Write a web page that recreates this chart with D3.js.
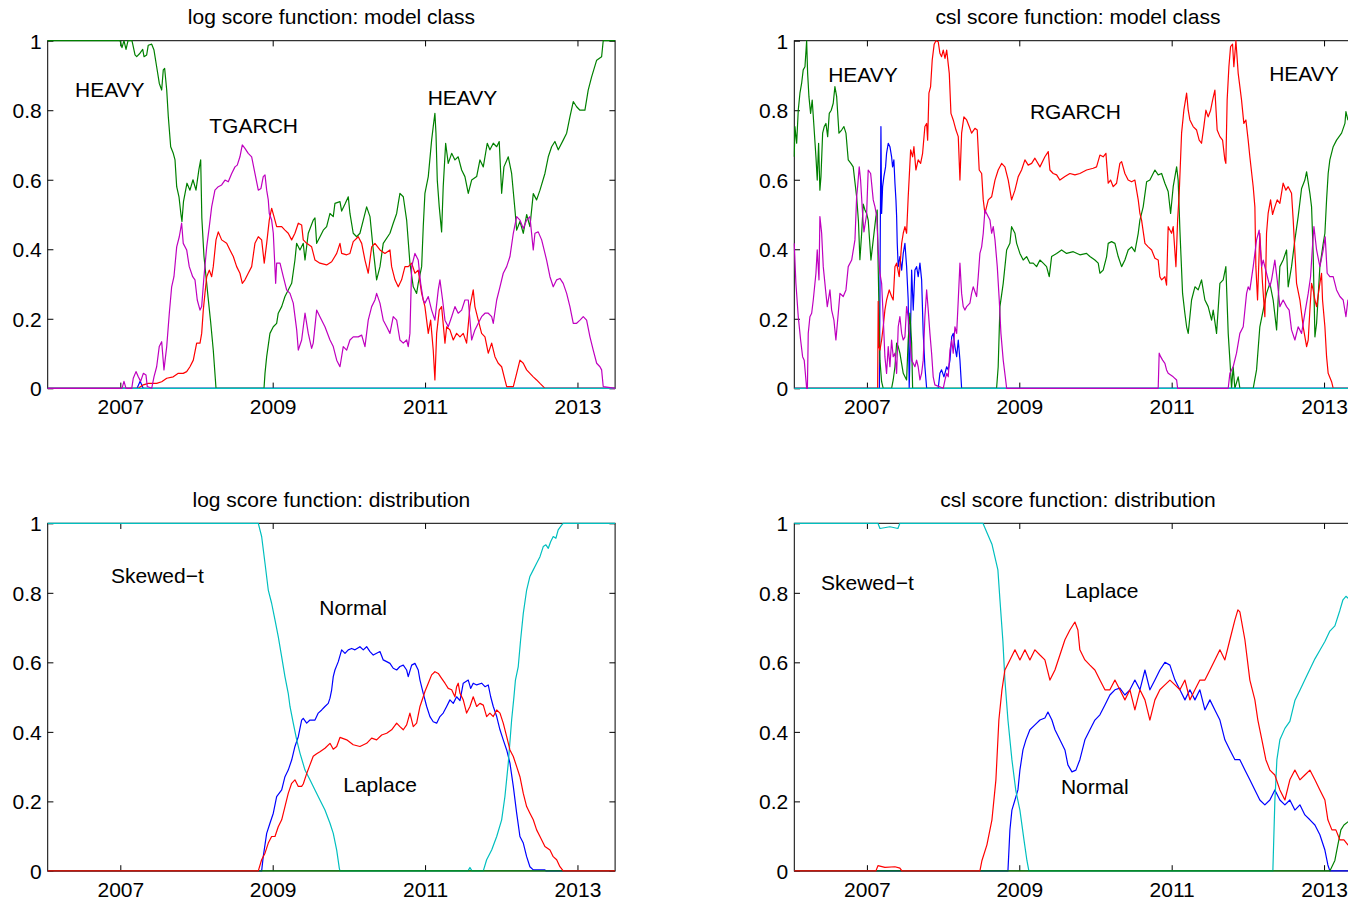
<!DOCTYPE html>
<html>
<head>
<meta charset="utf-8">
<script src="https://cdn.jsdelivr.net/npm/d3@7"></script>
<style>
html,body{margin:0;padding:0;background:#fff;overflow:hidden;}
svg{display:block;}
</style>
</head>
<body>
<div id="chart"></div>
<script>
// ---------------- data ----------------
const yearTicks = [2007, 2009, 2011, 2013];
const probTicks = [0, 0.2, 0.4, 0.6, 0.8, 1];
const yearDomain = [2006.047, 2013.494];

const titles = [
  "log score function: model class",
  "csl score function: model class",
  "log score function: distribution",
  "csl score function: distribution"
];

// ---- panel 1: log score, model class ----
const logClassHeavy = [[2006.047,1],[2006.996,1],[2007.022,0.98],[2007.048,1],[2007.075,0.975],[2007.101,1],[2007.153,1],[2007.170,0.983],[2007.193,0.959],[2007.215,0.954],[2007.258,0.964],[2007.294,0.975],[2007.311,0.954],[2007.346,0.959],[2007.367,0.987],[2007.412,0.99],[2007.442,0.973],[2007.477,0.925],[2007.512,0.877],[2007.543,0.858],[2007.564,0.916],[2007.582,0.92],[2007.609,0.858],[2007.630,0.781],[2007.661,0.695],[2007.695,0.676],[2007.718,0.657],[2007.740,0.58],[2007.770,0.551],[2007.796,0.50],[2007.809,0.48],[2007.829,0.537],[2007.849,0.56],[2007.875,0.59],[2007.914,0.57],[2007.954,0.6],[2007.993,0.57],[2008.032,0.63],[2008.055,0.657],[2008.070,0.49],[2008.098,0.38],[2008.155,0.255],[2008.186,0.19],[2008.220,0.11],[2008.256,0],[2008.886,0],[2008.899,0.043],[2008.921,0.091],[2008.964,0.158],[2009.008,0.177],[2009.052,0.187],[2009.073,0.216],[2009.118,0.235],[2009.161,0.264],[2009.204,0.283],[2009.249,0.302],[2009.292,0.369],[2009.314,0.417],[2009.358,0.398],[2009.401,0.417],[2009.424,0.369],[2009.467,0.446],[2009.533,0.484],[2009.555,0.49],[2009.577,0.417],[2009.621,0.436],[2009.664,0.455],[2009.708,0.465],[2009.752,0.503],[2009.795,0.494],[2009.817,0.532],[2009.883,0.537],[2009.905,0.51],[2009.949,0.53],[2009.992,0.551],[2010.014,0.503],[2010.057,0.446],[2010.102,0.436],[2010.145,0.446],[2010.189,0.484],[2010.233,0.522],[2010.277,0.494],[2010.320,0.398],[2010.364,0.312],[2010.408,0.35],[2010.451,0.417],[2010.539,0.446],[2010.582,0.475],[2010.627,0.503],[2010.648,0.532],[2010.670,0.561],[2010.714,0.551],[2010.758,0.484],[2010.801,0.36],[2010.845,0.292],[2010.889,0.273],[2010.910,0.302],[2010.955,0.35],[2010.976,0.465],[2010.998,0.561],[2011.042,0.609],[2011.086,0.714],[2011.107,0.753],[2011.129,0.791],[2011.143,0.734],[2011.160,0.599],[2011.186,0.522],[2011.217,0.45],[2011.238,0.58],[2011.270,0.705],[2011.304,0.647],[2011.349,0.676],[2011.392,0.657],[2011.435,0.666],[2011.480,0.628],[2011.523,0.609],[2011.567,0.561],[2011.611,0.599],[2011.677,0.609],[2011.720,0.657],[2011.764,0.637],[2011.816,0.705],[2011.851,0.686],[2011.895,0.705],[2011.940,0.695],[2011.973,0.71],[2012.005,0.561],[2012.035,0.637],[2012.092,0.666],[2012.136,0.618],[2012.180,0.513],[2012.202,0.455],[2012.245,0.48],[2012.289,0.446],[2012.333,0.50],[2012.376,0.465],[2012.420,0.56],[2012.464,0.542],[2012.508,0.57],[2012.573,0.618],[2012.617,0.666],[2012.661,0.695],[2012.704,0.71],[2012.748,0.686],[2012.813,0.714],[2012.858,0.734],[2012.901,0.781],[2012.945,0.825],[2012.989,0.81],[2013.033,0.8],[2013.098,0.8],[2013.141,0.858],[2013.186,0.896],[2013.252,0.944],[2013.317,0.954],[2013.338,1],[2013.494,1]];

const logClassTgarch = [[2006.047,0],[2007.022,0],[2007.048,0.02],[2007.075,0],[2007.150,0],[2007.170,0.029],[2007.206,0.048],[2007.236,0.033],[2007.267,0.02],[2007.302,0.043],[2007.337,0.038],[2007.354,0.005],[2007.412,0],[2007.442,0.033],[2007.477,0.062],[2007.511,0.12],[2007.543,0.134],[2007.573,0.053],[2007.609,0.12],[2007.643,0.216],[2007.674,0.292],[2007.704,0.321],[2007.740,0.407],[2007.774,0.436],[2007.805,0.475],[2007.826,0.417],[2007.871,0.398],[2007.905,0.35],[2007.950,0.321],[2007.980,0.312],[2008.010,0.254],[2008.046,0.225],[2008.068,0.235],[2008.098,0.321],[2008.134,0.407],[2008.168,0.465],[2008.199,0.522],[2008.242,0.57],[2008.286,0.58],[2008.330,0.585],[2008.374,0.599],[2008.417,0.594],[2008.462,0.618],[2008.505,0.637],[2008.535,0.642],[2008.570,0.666],[2008.601,0.70],[2008.636,0.69],[2008.679,0.676],[2008.724,0.666],[2008.767,0.618],[2008.811,0.57],[2008.846,0.575],[2008.876,0.609],[2008.899,0.614],[2008.921,0.57],[2008.942,0.542],[2008.955,0.503],[2008.986,0.484],[2009.008,0.446],[2009.039,0.302],[2009.052,0.36],[2009.096,0.36],[2009.139,0.321],[2009.183,0.283],[2009.227,0.273],[2009.270,0.245],[2009.315,0.168],[2009.336,0.11],[2009.380,0.139],[2009.424,0.216],[2009.467,0.158],[2009.511,0.115],[2009.532,0.13],[2009.577,0.225],[2009.620,0.206],[2009.686,0.177],[2009.752,0.139],[2009.795,0.12],[2009.840,0.081],[2009.883,0.062],[2009.926,0.12],[2009.971,0.11],[2010.014,0.139],[2010.057,0.148],[2010.123,0.148],[2010.168,0.153],[2010.211,0.12],[2010.254,0.196],[2010.299,0.235],[2010.342,0.254],[2010.364,0.273],[2010.408,0.245],[2010.451,0.196],[2010.496,0.177],[2010.539,0.158],[2010.582,0.206],[2010.627,0.196],[2010.670,0.139],[2010.714,0.13],[2010.758,0.139],[2010.779,0.12],[2010.801,0.158],[2010.824,0.35],[2010.867,0.388],[2010.910,0.369],[2010.942,0.302],[2010.976,0.254],[2010.998,0.245],[2011.042,0.264],[2011.086,0.225],[2011.129,0.196],[2011.173,0.283],[2011.195,0.312],[2011.230,0.254],[2011.261,0.196],[2011.304,0.177],[2011.349,0.206],[2011.392,0.235],[2011.435,0.216],[2011.480,0.225],[2011.523,0.254],[2011.567,0.254],[2011.611,0.139],[2011.654,0.168],[2011.698,0.187],[2011.742,0.206],[2011.786,0.216],[2011.829,0.216],[2011.874,0.206],[2011.895,0.187],[2011.940,0.254],[2011.983,0.292],[2012.026,0.331],[2012.071,0.35],[2012.114,0.379],[2012.158,0.446],[2012.202,0.494],[2012.245,0.484],[2012.289,0.46],[2012.333,0.484],[2012.376,0.494],[2012.420,0.398],[2012.442,0.446],[2012.485,0.45],[2012.530,0.427],[2012.595,0.369],[2012.639,0.321],[2012.682,0.292],[2012.727,0.312],[2012.770,0.316],[2012.813,0.302],[2012.858,0.273],[2012.901,0.235],[2012.945,0.187],[2012.989,0.187],[2013.033,0.196],[2013.076,0.206],[2013.120,0.196],[2013.164,0.148],[2013.207,0.11],[2013.252,0.072],[2013.295,0.062],[2013.317,0.053],[2013.338,0.005],[2013.494,0]];

const logClassRed = [[2006.047,0],[2007.236,0],[2007.302,0.01],[2007.367,0.014],[2007.477,0.014],[2007.543,0.019],[2007.609,0.029],[2007.695,0.033],[2007.761,0.043],[2007.826,0.043],[2007.871,0.048],[2007.914,0.062],[2007.958,0.081],[2008.002,0.13],[2008.046,0.13],[2008.068,0.158],[2008.089,0.225],[2008.111,0.273],[2008.134,0.321],[2008.168,0.34],[2008.199,0.321],[2008.220,0.35],[2008.256,0.427],[2008.286,0.45],[2008.330,0.427],[2008.396,0.417],[2008.439,0.398],[2008.483,0.379],[2008.527,0.35],[2008.570,0.331],[2008.601,0.302],[2008.636,0.312],[2008.679,0.331],[2008.724,0.35],[2008.767,0.417],[2008.811,0.436],[2008.855,0.427],[2008.889,0.36],[2008.921,0.417],[2008.955,0.484],[2008.986,0.518],[2009.017,0.494],[2009.052,0.465],[2009.118,0.465],[2009.161,0.455],[2009.204,0.446],[2009.249,0.427],[2009.292,0.446],[2009.336,0.475],[2009.380,0.47],[2009.401,0.427],[2009.446,0.417],[2009.511,0.407],[2009.555,0.369],[2009.620,0.36],[2009.708,0.355],[2009.774,0.364],[2009.840,0.388],[2009.883,0.417],[2009.905,0.388],[2009.971,0.384],[2010.014,0.388],[2010.057,0.422],[2010.123,0.436],[2010.168,0.417],[2010.211,0.369],[2010.254,0.331],[2010.299,0.407],[2010.342,0.417],[2010.408,0.398],[2010.473,0.388],[2010.539,0.398],[2010.561,0.35],[2010.605,0.312],[2010.648,0.292],[2010.692,0.312],[2010.736,0.35],[2010.779,0.35],[2010.824,0.36],[2010.867,0.331],[2010.910,0.34],[2010.955,0.273],[2010.998,0.235],[2011.042,0.158],[2011.073,0.196],[2011.107,0.11],[2011.129,0.024],[2011.152,0.158],[2011.186,0.225],[2011.217,0.235],[2011.261,0.13],[2011.283,0.177],[2011.326,0.168],[2011.370,0.139],[2011.414,0.158],[2011.458,0.148],[2011.501,0.158],[2011.545,0.13],[2011.589,0.235],[2011.632,0.283],[2011.654,0.235],[2011.698,0.196],[2011.742,0.158],[2011.786,0.148],[2011.829,0.101],[2011.874,0.13],[2011.917,0.091],[2011.960,0.072],[2012.005,0.062],[2012.048,0.024],[2012.071,0.005],[2012.158,0.005],[2012.202,0.043],[2012.245,0.081],[2012.289,0.072],[2012.333,0.053],[2012.376,0.043],[2012.420,0.033],[2012.464,0.024],[2012.508,0.014],[2012.551,0.005],[2012.573,0],[2013.494,0]];

const logClassBlue = [[2006.047,0],[2007.22,0],[2007.26,0.02],[2007.30,0],[2013.494,0]];
const logClassCyan = [[2006.047,0],[2013.494,0]];

// ---- panel 2: csl score, model class ----
const cslClassHeavy = [[2006.046,0.666],[2006.055,0.753],[2006.078,0.705],[2006.099,0.80],[2006.121,0.849],[2006.143,0.877],[2006.164,0.916],[2006.187,0.925],[2006.209,1.0],[2006.222,0.906],[2006.239,0.839],[2006.261,0.791],[2006.282,0.829],[2006.305,0.753],[2006.331,0.666],[2006.348,0.599],[2006.366,0.705],[2006.383,0.57],[2006.397,0.609],[2006.419,0.734],[2006.440,0.753],[2006.462,0.762],[2006.485,0.724],[2006.506,0.791],[2006.532,0.80],[2006.558,0.82],[2006.580,0.868],[2006.603,0.839],[2006.633,0.734],[2006.668,0.743],[2006.698,0.753],[2006.725,0.734],[2006.755,0.657],[2006.790,0.647],[2006.820,0.637],[2006.865,0.551],[2006.889,0.48],[2006.908,0.37],[2006.931,0.446],[2006.952,0.53],[2006.974,0.513],[2006.996,0.503],[2007.017,0.484],[2007.053,0.369],[2007.083,0.427],[2007.118,0.494],[2007.135,0.513],[2007.148,0.35],[2007.171,0.081],[2007.193,0.019],[2007.214,0],[2007.324,0],[2007.345,0.024],[2007.368,0.062],[2007.390,0.13],[2007.411,0.12],[2007.433,0.101],[2007.477,0.043],[2007.521,0.024],[2007.542,0.139],[2007.564,0.216],[2007.587,0.13],[2007.600,0],[2008.702,0],[2008.723,0.062],[2008.746,0.235],[2008.789,0.302],[2008.834,0.398],[2008.877,0.417],[2008.899,0.465],[2008.943,0.446],[2008.965,0.417],[2009.008,0.388],[2009.051,0.369],[2009.096,0.379],[2009.139,0.36],[2009.183,0.36],[2009.227,0.35],[2009.271,0.369],[2009.314,0.36],[2009.358,0.35],[2009.393,0.321],[2009.424,0.379],[2009.490,0.388],[2009.555,0.398],[2009.621,0.388],[2009.708,0.393],[2009.795,0.384],[2009.883,0.388],[2009.927,0.379],[2009.992,0.369],[2010.036,0.36],[2010.058,0.331],[2010.101,0.34],[2010.146,0.379],[2010.167,0.417],[2010.211,0.422],[2010.255,0.417],[2010.298,0.379],[2010.343,0.35],[2010.386,0.369],[2010.429,0.398],[2010.474,0.407],[2010.517,0.393],[2010.561,0.446],[2010.583,0.484],[2010.626,0.522],[2010.671,0.594],[2010.714,0.599],[2010.780,0.628],[2010.823,0.614],[2010.868,0.618],[2010.911,0.59],[2010.954,0.566],[2010.986,0.503],[2011.020,0.58],[2011.065,0.637],[2011.085,0.599],[2011.108,0.455],[2011.143,0.273],[2011.173,0.216],[2011.196,0.177],[2011.217,0.158],[2011.261,0.254],[2011.305,0.292],[2011.348,0.283],[2011.392,0.312],[2011.436,0.254],[2011.479,0.235],[2011.524,0.196],[2011.545,0.225],[2011.589,0.158],[2011.633,0.302],[2011.676,0.312],[2011.711,0.35],[2011.742,0.158],[2011.764,0.081],[2011.786,0],[2011.807,0.062],[2011.829,0],[2011.873,0.033],[2011.895,0],[2012.070,0],[2012.114,0.053],[2012.157,0.177],[2012.201,0.225],[2012.245,0.273],[2012.289,0.302],[2012.332,0.254],[2012.377,0.168],[2012.420,0.35],[2012.463,0.369],[2012.508,0.398],[2012.529,0.292],[2012.573,0.35],[2012.617,0.427],[2012.660,0.494],[2012.705,0.575],[2012.748,0.599],[2012.771,0.623],[2012.814,0.561],[2012.836,0.522],[2012.857,0.388],[2012.880,0.148],[2012.902,0.187],[2012.945,0.35],[2012.989,0.417],[2013.011,0.446],[2013.033,0.542],[2013.054,0.618],[2013.076,0.657],[2013.120,0.695],[2013.164,0.714],[2013.230,0.734],[2013.274,0.762],[2013.287,0.796],[2013.313,0.772],[2013.392,0.78],[2013.494,0.79]];

const cslClassRgarch = [[2006.046,0],[2007.141,0],[2007.148,0.25],[2007.157,0.12],[2007.171,0.11],[2007.193,0.139],[2007.214,0.177],[2007.236,0.225],[2007.258,0.254],[2007.293,0.283],[2007.324,0.264],[2007.345,0.254],[2007.368,0.35],[2007.390,0.36],[2007.424,0.321],[2007.456,0.417],[2007.477,0.446],[2007.499,0.465],[2007.521,0.446],[2007.542,0.551],[2007.574,0.686],[2007.600,0.666],[2007.617,0.695],[2007.643,0.628],[2007.673,0.657],[2007.705,0.647],[2007.731,0.676],[2007.761,0.753],[2007.784,0.762],[2007.797,0.714],[2007.814,0.849],[2007.836,0.868],[2007.857,0.944],[2007.883,0.99],[2007.906,1.0],[2007.936,0.997],[2007.958,0.964],[2007.980,0.954],[2008.002,0.973],[2008.025,0.949],[2008.047,0.973],[2008.081,0.906],[2008.103,0.791],[2008.133,0.772],[2008.169,0.743],[2008.199,0.724],[2008.221,0.599],[2008.243,0.734],[2008.273,0.781],[2008.309,0.772],[2008.343,0.753],[2008.374,0.734],[2008.418,0.748],[2008.448,0.743],[2008.474,0.628],[2008.506,0.618],[2008.527,0.542],[2008.549,0.503],[2008.593,0.542],[2008.637,0.551],[2008.681,0.599],[2008.723,0.628],[2008.768,0.647],[2008.811,0.637],[2008.855,0.599],[2008.899,0.542],[2008.943,0.57],[2008.986,0.609],[2009.030,0.628],[2009.074,0.657],[2009.117,0.642],[2009.162,0.647],[2009.205,0.662],[2009.271,0.637],[2009.336,0.666],[2009.380,0.681],[2009.402,0.628],[2009.445,0.618],[2009.490,0.614],[2009.533,0.599],[2009.599,0.609],[2009.664,0.618],[2009.730,0.614],[2009.795,0.618],[2009.883,0.628],[2009.970,0.633],[2010.014,0.637],[2010.058,0.671],[2010.101,0.666],[2010.137,0.676],[2010.167,0.59],[2010.198,0.599],[2010.233,0.58],[2010.277,0.59],[2010.320,0.647],[2010.343,0.652],[2010.386,0.618],[2010.429,0.599],[2010.474,0.594],[2010.517,0.599],[2010.561,0.542],[2010.583,0.503],[2010.605,0.484],[2010.649,0.417],[2010.692,0.407],[2010.737,0.398],[2010.780,0.374],[2010.823,0.369],[2010.845,0.321],[2010.868,0.312],[2010.911,0.321],[2010.933,0.297],[2010.954,0.465],[2010.999,0.446],[2011.020,0.465],[2011.056,0.35],[2011.078,0.484],[2011.099,0.561],[2011.130,0.734],[2011.160,0.80],[2011.196,0.849],[2011.217,0.80],[2011.239,0.772],[2011.282,0.753],[2011.327,0.743],[2011.361,0.714],[2011.392,0.705],[2011.422,0.753],[2011.449,0.80],[2011.479,0.781],[2011.511,0.80],[2011.537,0.829],[2011.567,0.858],[2011.597,0.743],[2011.633,0.724],[2011.668,0.714],[2011.698,0.657],[2011.711,0.647],[2011.728,0.829],[2011.751,0.925],[2011.773,0.983],[2011.799,0.99],[2011.816,0.925],[2011.843,1.0],[2011.873,0.906],[2011.895,0.868],[2011.917,0.829],[2011.947,0.762],[2011.974,0.772],[2012.004,0.714],[2012.026,0.666],[2012.070,0.58],[2012.092,0.522],[2012.105,0.35],[2012.127,0.254],[2012.157,0.446],[2012.192,0.302],[2012.223,0.206],[2012.245,0.446],[2012.266,0.503],[2012.298,0.542],[2012.324,0.50],[2012.354,0.522],[2012.385,0.542],[2012.420,0.532],[2012.463,0.59],[2012.499,0.57],[2012.529,0.58],[2012.573,0.561],[2012.595,0.484],[2012.639,0.302],[2012.683,0.254],[2012.726,0.177],[2012.771,0.12],[2012.792,0.139],[2012.814,0.225],[2012.836,0.302],[2012.857,0.283],[2012.880,0.254],[2012.902,0.235],[2012.945,0.302],[2012.967,0.331],[2012.980,0.254],[2013.011,0.177],[2013.033,0.091],[2013.054,0.043],[2013.099,0.019],[2013.120,0],[2013.494,0]];

const cslClassMagenta = [[2006.046,0.417],[2006.068,0.302],[2006.099,0.206],[2006.130,0.139],[2006.156,0.091],[2006.177,0.081],[2006.209,0],[2006.219,0],[2006.230,0.158],[2006.252,0.206],[2006.275,0.216],[2006.296,0.254],[2006.331,0.331],[2006.348,0.398],[2006.371,0.312],[2006.383,0.494],[2006.406,0.446],[2006.427,0.35],[2006.462,0.273],[2006.480,0.235],[2006.515,0.283],[2006.537,0.225],[2006.567,0.196],[2006.593,0.139],[2006.624,0.216],[2006.646,0.273],[2006.689,0.264],[2006.725,0.283],[2006.755,0.35],[2006.800,0.369],[2006.843,0.427],[2006.865,0.55],[2006.878,0.58],[2006.899,0.637],[2006.917,0.599],[2006.943,0.503],[2006.961,0.45],[2006.996,0.50],[2007.017,0.628],[2007.049,0.618],[2007.083,0.542],[2007.106,0.522],[2007.129,0.494],[2007.148,0.398],[2007.171,0.331],[2007.193,0.302],[2007.214,0.206],[2007.236,0.091],[2007.258,0.043],[2007.280,0.12],[2007.302,0.062],[2007.324,0.139],[2007.345,0.091],[2007.368,0.101],[2007.390,0.043],[2007.411,0.177],[2007.433,0.206],[2007.456,0.158],[2007.477,0.139],[2007.499,0.148],[2007.521,0.235],[2007.542,0.206],[2007.564,0.139],[2007.587,0.081],[2007.608,0.072],[2007.630,0.062],[2007.652,0.081],[2007.673,0.062],[2007.696,0.024],[2007.718,0.043],[2007.739,0.081],[2007.761,0.206],[2007.784,0.283],[2007.805,0.225],[2007.827,0.158],[2007.849,0.101],[2007.870,0.033],[2007.892,0.01],[2008.002,0],[2008.025,0.024],[2008.047,0.043],[2008.068,0.033],[2008.090,0.11],[2008.113,0.139],[2008.133,0.101],[2008.155,0.177],[2008.178,0.158],[2008.199,0.254],[2008.221,0.36],[2008.243,0.273],[2008.264,0.235],[2008.286,0.225],[2008.309,0.235],[2008.352,0.245],[2008.374,0.273],[2008.395,0.292],[2008.440,0.264],[2008.461,0.321],[2008.483,0.388],[2008.506,0.407],[2008.527,0.446],[2008.549,0.513],[2008.571,0.503],[2008.615,0.484],[2008.637,0.446],[2008.658,0.465],[2008.681,0.427],[2008.711,0.35],[2008.737,0.254],[2008.759,0.158],[2008.789,0.081],[2008.821,0.024],[2008.834,0],[2010.823,0],[2010.836,0.101],[2010.855,0.091],[2010.881,0.081],[2010.911,0.072],[2010.933,0.053],[2010.954,0.043],[2011.020,0.033],[2011.065,0.024],[2011.078,0],[2011.742,0],[2011.764,0.043],[2011.807,0.062],[2011.851,0.101],[2011.895,0.158],[2011.939,0.177],[2011.983,0.273],[2012.004,0.292],[2012.026,0.283],[2012.070,0.35],[2012.114,0.427],[2012.148,0.455],[2012.180,0.35],[2012.201,0.369],[2012.245,0.331],[2012.289,0.292],[2012.311,0.312],[2012.354,0.369],[2012.385,0.312],[2012.420,0.235],[2012.463,0.254],[2012.508,0.235],[2012.542,0.225],[2012.573,0.168],[2012.617,0.139],[2012.660,0.177],[2012.705,0.158],[2012.748,0.216],[2012.792,0.273],[2012.823,0.321],[2012.845,0.398],[2012.867,0.465],[2012.902,0.398],[2012.945,0.35],[2012.989,0.398],[2013.015,0.436],[2013.041,0.331],[2013.076,0.321],[2013.120,0.321],[2013.164,0.283],[2013.208,0.264],[2013.251,0.254],[2013.287,0.206],[2013.313,0.254],[2013.405,0.25],[2013.494,0.24]];

const cslClassBlue = [[2006.046,0],[2007.164,0],[2007.177,0.5],[2007.184,0.753],[2007.193,0.503],[2007.206,0.58],[2007.223,0.609],[2007.245,0.637],[2007.258,0.676],[2007.280,0.705],[2007.302,0.695],[2007.324,0.666],[2007.337,0.637],[2007.354,0.657],[2007.368,0.59],[2007.381,0.542],[2007.390,0.494],[2007.398,0.417],[2007.411,0.35],[2007.433,0.379],[2007.456,0.34],[2007.477,0.388],[2007.499,0.417],[2007.521,0.35],[2007.542,0.254],[2007.555,0],[2007.571,0.15],[2007.587,0.34],[2007.608,0.225],[2007.630,0.34],[2007.652,0.35],[2007.673,0.321],[2007.696,0.36],[2007.718,0.312],[2007.739,0.158],[2007.761,0.062],[2007.784,0],[2007.936,0],[2007.958,0.043],[2007.980,0.053],[2008.011,0.033],[2008.047,0.062],[2008.068,0.053],[2008.090,0.081],[2008.113,0.148],[2008.133,0.158],[2008.155,0.12],[2008.178,0.091],[2008.199,0.139],[2008.221,0.081],[2008.243,0],[2013.494,0]];

const cslClassCyan = [[2006.046,0],[2013.494,0]];

// ---- panel 3: log score, distribution ----
const logDistSkewT = [[2006.047,1],[2008.811,1],[2008.855,0.962],[2008.899,0.885],[2008.942,0.808],[2008.986,0.77],[2009.030,0.722],[2009.073,0.674],[2009.118,0.616],[2009.161,0.559],[2009.204,0.511],[2009.227,0.473],[2009.270,0.425],[2009.315,0.377],[2009.358,0.339],[2009.424,0.29],[2009.489,0.262],[2009.555,0.233],[2009.620,0.204],[2009.686,0.175],[2009.752,0.137],[2009.795,0.108],[2009.840,0.06],[2009.874,0.008],[2009.883,0],[2011.563,0],[2011.589,0.01],[2011.615,0],[2011.764,0],[2011.808,0.032],[2011.874,0.06],[2011.940,0.099],[2012.005,0.147],[2012.048,0.214],[2012.092,0.31],[2012.136,0.434],[2012.166,0.5],[2012.186,0.549],[2012.223,0.588],[2012.254,0.665],[2012.289,0.741],[2012.333,0.808],[2012.376,0.847],[2012.420,0.866],[2012.464,0.885],[2012.508,0.904],[2012.551,0.933],[2012.586,0.938],[2012.617,0.928],[2012.648,0.947],[2012.682,0.962],[2012.717,0.957],[2012.747,0.981],[2012.792,0.995],[2012.813,1],[2013.494,1]];

const logDistNormal = [[2006.047,0],[2008.855,0],[2008.876,0.041],[2008.921,0.108],[2008.964,0.137],[2009.008,0.166],[2009.052,0.214],[2009.118,0.233],[2009.161,0.271],[2009.204,0.29],[2009.249,0.319],[2009.292,0.358],[2009.336,0.386],[2009.380,0.434],[2009.401,0.439],[2009.446,0.425],[2009.489,0.434],[2009.555,0.434],[2009.598,0.454],[2009.643,0.463],[2009.686,0.473],[2009.729,0.482],[2009.752,0.497],[2009.774,0.521],[2009.795,0.559],[2009.817,0.578],[2009.861,0.602],[2009.905,0.636],[2009.949,0.626],[2009.992,0.636],[2010.036,0.64],[2010.080,0.636],[2010.145,0.645],[2010.189,0.636],[2010.233,0.645],[2010.277,0.631],[2010.320,0.621],[2010.364,0.626],[2010.408,0.631],[2010.451,0.607],[2010.496,0.602],[2010.539,0.597],[2010.582,0.583],[2010.627,0.578],[2010.670,0.588],[2010.714,0.592],[2010.758,0.578],[2010.779,0.559],[2010.824,0.592],[2010.867,0.597],[2010.910,0.578],[2010.933,0.549],[2010.976,0.511],[2011.021,0.473],[2011.064,0.444],[2011.107,0.429],[2011.152,0.425],[2011.195,0.444],[2011.238,0.454],[2011.283,0.473],[2011.326,0.492],[2011.370,0.482],[2011.414,0.501],[2011.458,0.49],[2011.501,0.54],[2011.567,0.549],[2011.598,0.525],[2011.632,0.54],[2011.677,0.535],[2011.742,0.54],[2011.786,0.53],[2011.829,0.535],[2011.861,0.501],[2011.895,0.473],[2011.940,0.444],[2011.983,0.406],[2012.026,0.377],[2012.071,0.348],[2012.114,0.31],[2012.158,0.243],[2012.202,0.166],[2012.245,0.099],[2012.289,0.08],[2012.333,0.041],[2012.376,0.012],[2012.420,0.003],[2012.573,0.003],[2012.586,0],[2013.494,0]];

const logDistLaplace = [[2006.047,0],[2008.811,0],[2008.855,0.032],[2008.899,0.051],[2008.942,0.08],[2008.986,0.099],[2009.030,0.099],[2009.073,0.127],[2009.118,0.147],[2009.161,0.185],[2009.204,0.223],[2009.249,0.252],[2009.292,0.262],[2009.336,0.243],[2009.380,0.243],[2009.401,0.25],[2009.446,0.28],[2009.489,0.305],[2009.532,0.33],[2009.577,0.337],[2009.620,0.343],[2009.686,0.353],[2009.752,0.367],[2009.795,0.35],[2009.840,0.358],[2009.883,0.384],[2009.971,0.377],[2010.057,0.363],[2010.145,0.358],[2010.233,0.367],[2010.299,0.382],[2010.364,0.377],[2010.430,0.391],[2010.496,0.396],[2010.561,0.406],[2010.627,0.425],[2010.670,0.415],[2010.714,0.406],[2010.758,0.42],[2010.801,0.454],[2010.845,0.415],[2010.889,0.425],[2010.933,0.473],[2010.976,0.501],[2010.998,0.516],[2011.042,0.54],[2011.086,0.564],[2011.129,0.573],[2011.173,0.568],[2011.217,0.554],[2011.261,0.54],[2011.304,0.525],[2011.349,0.521],[2011.370,0.511],[2011.392,0.501],[2011.414,0.53],[2011.435,0.54],[2011.458,0.511],[2011.501,0.492],[2011.545,0.454],[2011.589,0.473],[2011.632,0.501],[2011.677,0.473],[2011.720,0.482],[2011.764,0.477],[2011.808,0.444],[2011.851,0.454],[2011.895,0.444],[2011.940,0.463],[2011.983,0.454],[2012.026,0.425],[2012.071,0.386],[2012.114,0.348],[2012.158,0.329],[2012.202,0.3],[2012.245,0.271],[2012.289,0.223],[2012.333,0.185],[2012.376,0.166],[2012.420,0.147],[2012.464,0.118],[2012.508,0.099],[2012.573,0.07],[2012.639,0.06],[2012.682,0.041],[2012.727,0.032],[2012.770,0.012],[2012.813,0],[2013.494,0]];

const logDistGreen = [[2006.047,0],[2013.494,0]];

// ---- panel 4: csl score, distribution ----
const cslDistSkewT = [[2006.046,1],[2007.145,1],[2007.171,0.985],[2007.302,0.99],[2007.407,0.985],[2007.433,1],[2008.523,1],[2008.562,0.98],[2008.641,0.94],[2008.719,0.866],[2008.746,0.78],[2008.785,0.66],[2008.811,0.55],[2008.851,0.434],[2008.903,0.32],[2008.955,0.23],[2009.008,0.175],[2009.061,0.09],[2009.100,0.03],[2009.126,0],[2012.328,0],[2012.354,0.2],[2012.381,0.32],[2012.420,0.377],[2012.486,0.41],[2012.551,0.43],[2012.617,0.49],[2012.683,0.52],[2012.748,0.55],[2012.814,0.58],[2012.880,0.61],[2012.945,0.635],[2013.011,0.66],[2013.076,0.69],[2013.142,0.705],[2013.208,0.75],[2013.248,0.78],[2013.287,0.79],[2013.313,0.785],[2013.405,0.79],[2013.494,0.8]];

const cslDistLaplace = [[2006.046,0],[2007.118,0],[2007.145,0.015],[2007.236,0.01],[2007.368,0.012],[2007.433,0.008],[2007.459,0],[2008.483,0],[2008.510,0.03],[2008.575,0.075],[2008.641,0.147],[2008.693,0.262],[2008.732,0.434],[2008.772,0.52],[2008.811,0.578],[2008.877,0.607],[2008.943,0.636],[2009.008,0.607],[2009.074,0.636],[2009.139,0.607],[2009.205,0.636],[2009.271,0.621],[2009.336,0.607],[2009.402,0.549],[2009.468,0.578],[2009.533,0.621],[2009.599,0.665],[2009.664,0.693],[2009.730,0.716],[2009.769,0.693],[2009.795,0.636],[2009.861,0.607],[2009.927,0.592],[2009.992,0.578],[2010.058,0.549],[2010.124,0.521],[2010.189,0.521],[2010.255,0.549],[2010.320,0.521],[2010.386,0.492],[2010.452,0.521],[2010.517,0.463],[2010.583,0.521],[2010.649,0.492],[2010.714,0.434],[2010.780,0.492],[2010.845,0.521],[2010.911,0.535],[2010.977,0.549],[2011.043,0.535],[2011.108,0.521],[2011.174,0.549],[2011.239,0.492],[2011.305,0.521],[2011.370,0.549],[2011.436,0.549],[2011.502,0.578],[2011.567,0.607],[2011.633,0.636],[2011.698,0.607],[2011.764,0.665],[2011.830,0.722],[2011.869,0.751],[2011.895,0.745],[2011.961,0.665],[2012.026,0.549],[2012.092,0.492],[2012.131,0.434],[2012.184,0.377],[2012.236,0.32],[2012.289,0.29],[2012.354,0.276],[2012.420,0.233],[2012.486,0.204],[2012.551,0.262],[2012.617,0.29],[2012.683,0.262],[2012.748,0.276],[2012.814,0.29],[2012.880,0.262],[2012.945,0.233],[2013.011,0.204],[2013.050,0.147],[2013.103,0.118],[2013.155,0.118],[2013.208,0.089],[2013.261,0.089],[2013.313,0.075],[2013.405,0.09],[2013.494,0.1]];

const cslDistNormal = [[2006.046,0],[2008.851,0],[2008.877,0.118],[2008.903,0.175],[2008.943,0.204],[2008.982,0.233],[2009.008,0.29],[2009.048,0.348],[2009.087,0.377],[2009.139,0.406],[2009.205,0.42],[2009.271,0.434],[2009.336,0.44],[2009.376,0.457],[2009.428,0.434],[2009.468,0.406],[2009.533,0.377],[2009.599,0.348],[2009.638,0.305],[2009.691,0.285],[2009.743,0.29],[2009.795,0.32],[2009.861,0.377],[2009.927,0.406],[2009.992,0.434],[2010.058,0.449],[2010.124,0.477],[2010.189,0.506],[2010.255,0.521],[2010.320,0.526],[2010.386,0.506],[2010.452,0.521],[2010.517,0.549],[2010.583,0.521],[2010.649,0.578],[2010.714,0.521],[2010.780,0.549],[2010.845,0.578],[2010.911,0.6],[2010.977,0.592],[2011.043,0.549],[2011.108,0.521],[2011.174,0.492],[2011.239,0.521],[2011.305,0.492],[2011.370,0.521],[2011.436,0.463],[2011.502,0.492],[2011.567,0.463],[2011.633,0.434],[2011.698,0.377],[2011.764,0.348],[2011.830,0.32],[2011.895,0.32],[2011.961,0.29],[2012.026,0.262],[2012.092,0.233],[2012.157,0.204],[2012.223,0.19],[2012.289,0.204],[2012.354,0.233],[2012.420,0.204],[2012.486,0.19],[2012.551,0.204],[2012.617,0.175],[2012.683,0.19],[2012.748,0.161],[2012.814,0.147],[2012.880,0.132],[2012.945,0.104],[2013.011,0.06],[2013.050,0.017],[2013.076,0],[2013.494,0]];

const cslDistGreen = [[2006.046,0],[2013.076,0],[2013.142,0.03],[2013.181,0.075],[2013.221,0.118],[2013.261,0.132],[2013.313,0.141],[2013.405,0.13],[2013.494,0.12]];

// annotation texts [text, year, probability]
const labels1 = [["HEAVY", 2006.405, 0.839], ["TGARCH", 2008.168, 0.735], ["HEAVY", 2011.034, 0.815]];
const labels2 = [["HEAVY", 2006.492, 0.880], ["RGARCH", 2009.139, 0.775], ["HEAVY", 2012.280, 0.884]];
const labels3 = [["Skewed\u2212t", 2006.878, 0.829], ["Normal", 2009.611, 0.736], ["Laplace", 2009.926, 0.228]];
const labels4 = [["Skewed\u2212t", 2006.397, 0.808], ["Laplace", 2009.599, 0.785], ["Normal", 2009.546, 0.221]];

// ---------------- drawing ----------------
const COL = {b:"#0000ff", g:"#008000", r:"#ff0000", c:"#00bfbf", m:"#bf00bf"};
const FONT = "'Liberation Sans', Arial, Helvetica, sans-serif";
const FS = 21;
const W = 567.4, H = 347.6;

const panels = [
  {title: titles[0], left: 47.7, top: 40.7, labels: labels1,
   series: [[logClassBlue,"b"],[logClassHeavy,"g"],[logClassRed,"r"],[logClassCyan,"c"],[logClassTgarch,"m"]]},
  {title: titles[1], left: 794.3, top: 40.7, labels: labels2,
   series: [[cslClassBlue,"b"],[cslClassHeavy,"g"],[cslClassRgarch,"r"],[cslClassCyan,"c"],[cslClassMagenta,"m"]]},
  {title: titles[2], left: 47.7, top: 523.3, labels: labels3,
   series: [[logDistNormal,"b"],[logDistSkewT,"c"],[logDistGreen,"g"],[logDistLaplace,"r"]]},
  {title: titles[3], left: 794.3, top: 523.3, labels: labels4,
   series: [[cslDistNormal,"b"],[cslDistSkewT,"c"],[cslDistGreen,"g"],[cslDistLaplace,"r"]]}
];

const svg = d3.select("#chart").append("svg")
  .attr("width", 1372).attr("height", 904)
  .style("font-family", FONT);

panels.forEach((p, i) => {
  const x = d3.scaleLinear().domain(yearDomain).range([0, W]);
  const y = d3.scaleLinear().domain([0, 1]).range([H, 0]);
  const g = svg.append("g").attr("transform", `translate(${p.left},${p.top})`);

  // box
  g.append("rect").attr("x", 0).attr("y", 0).attr("width", W).attr("height", H)
    .attr("fill", "none").attr("stroke", "#000").attr("stroke-width", 1);

  const tl = 5.7;
  const axB = g.append("g").attr("transform", `translate(0,${H})`)
    .call(d3.axisBottom(x).tickValues(yearTicks).tickSizeInner(-tl).tickSizeOuter(0).tickFormat(d3.format("d")));
  axB.selectAll("text").attr("y", 26).attr("dy", null);
  const axT = g.append("g")
    .call(d3.axisTop(x).tickValues(yearTicks).tickSizeInner(-tl).tickSizeOuter(0).tickFormat(""));
  const axL = g.append("g")
    .call(d3.axisLeft(y).tickValues(probTicks).tickSizeInner(-tl).tickSizeOuter(0).tickPadding(6).tickFormat(d => String(d)));
  axL.selectAll("text").attr("dy", "0.35em");
  const axR = g.append("g").attr("transform", `translate(${W},0)`)
    .call(d3.axisRight(y).tickValues(probTicks).tickSizeInner(-tl).tickSizeOuter(0).tickFormat(""));

  [axB, axT, axL, axR].forEach(a => {
    a.select(".domain").remove();
    a.attr("font-family", FONT).attr("font-size", FS);
    a.selectAll("line").attr("stroke", "#000").attr("stroke-width", 1);
    a.selectAll("text").attr("fill", "#000");
  });

  // title
  g.append("text").attr("x", W / 2).attr("y", -16.7).attr("text-anchor", "middle")
    .attr("font-size", FS).attr("fill", "#000").text(p.title);

  // clip
  const cid = "clip" + i;
  g.append("clipPath").attr("id", cid).append("rect")
    .attr("x", -1).attr("y", -1.5).attr("width", W + 2).attr("height", H + 3);

  const line = d3.line().x(d => x(d[0])).y(d => y(d[1]));
  const lg = g.append("g").attr("clip-path", `url(#${cid})`);
  p.series.forEach(([data, c]) => {
    lg.append("path").datum(data).attr("d", line)
      .attr("fill", "none").attr("stroke", COL[c]).attr("stroke-width", 1.2)
      .attr("stroke-linejoin", "round");
  });

  // annotations
  p.labels.forEach(([t, yr, v]) => {
    g.append("text").attr("x", x(yr)).attr("y", y(v))
      .attr("font-size", FS).attr("fill", "#000").text(t);
  });
});
</script>
</body>
</html>
